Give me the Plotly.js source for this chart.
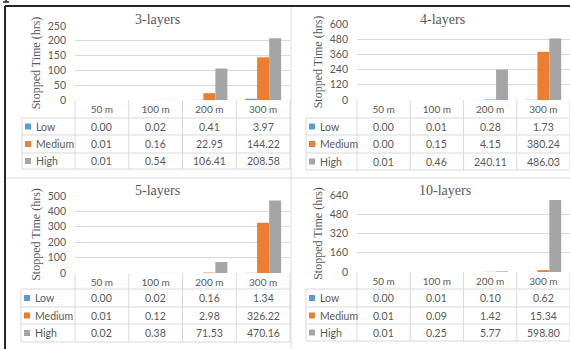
<!DOCTYPE html>
<html>
<head>
<meta charset="utf-8">
<script src="https://cdn.plot.ly/plotly-3.0.1.min.js"></script>
<style>html,body{margin:0;padding:0;background:#fff;}#chart{width:570px;height:349px;}</style>
</head>
<body>
<div id="chart"></div>
<script>
// ---- data ----
const categories = ['50 m', '100 m', '200 m', '300 m'];
const seriesNames = ['Low', 'Medium', 'High'];
const panelTitles = ['3-layers', '4-layers', '5-layers', '10-layers'];

const low3 = [0.00, 0.02, 0.41, 3.97];
const medium3 = [0.01, 0.16, 22.95, 144.22];
const high3 = [0.01, 0.54, 106.41, 208.58];

const low4 = [0.00, 0.01, 0.28, 1.73];
const medium4 = [0.00, 0.15, 4.15, 380.24];
const high4 = [0.01, 0.46, 240.11, 486.03];

const low5 = [0.00, 0.02, 0.16, 1.34];
const medium5 = [0.01, 0.12, 2.98, 326.22];
const high5 = [0.02, 0.38, 71.53, 470.16];

const low10 = [0.00, 0.01, 0.10, 0.62];
const medium10 = [0.01, 0.09, 1.42, 15.34];
const high10 = [0.01, 0.25, 5.77, 598.80];

const yTicks3 = [0, 50, 100, 150, 200, 250];
const yTicks4 = [0, 120, 240, 360, 480, 600];
const yTicks5 = [0, 100, 200, 300, 400, 500];
const yTicks10 = [0, 160, 320, 480, 640];

const yAxisTitle = 'Stopped Time (hrs)';

// ---- styling / layout ----
const W = 570, H = 349;
const colors = ['#5B9BD5', '#ED7D31', '#A5A5A5'];
const lineCol = '#D9D9D9';
const textCol = '#595959';
const sans = 'Lato, "Open Sans", sans-serif';
const serif = '"Liberation Serif", "DejaVu Serif", serif';

const px = v => v / W;
const py = v => 1 - v / H;

const panelData = [
  { series: [low3, medium3, high3], ticks: yTicks3 },
  { series: [low4, medium4, high4], ticks: yTicks4 },
  { series: [low5, medium5, high5], ticks: yTicks5 },
  { series: [low10, medium10, high10], ticks: yTicks10 }
];

// geometry in pixels
const geom = [
  { xl: 75, xr: 290, yt: 26, yb: 100, legL: 22, tX: 157, tY: 19, rows: [100, 118, 135, 153, 169] },
  { xl: 357, xr: 570, yt: 24, yb: 100, legL: 306, tX: 442, tY: 19, rows: [100, 118, 135, 153, 170] },
  { xl: 75, xr: 290, yt: 196, yb: 273, legL: 21, tX: 157, tY: 190, rows: [273, 289, 307, 324, 342] },
  { xl: 357, xr: 570, yt: 195, yb: 272, legL: 306, tX: 445, tY: 190, rows: [272, 289, 307, 324, 341] }
];

const traces = [];
const layout = {
  width: W, height: H,
  margin: { l: 0, r: 0, t: 0, b: 0 },
  paper_bgcolor: '#ffffff',
  plot_bgcolor: 'rgba(0,0,0,0)',
  showlegend: false,
  barmode: 'group',
  bargap: 0.33,
  bargroupgap: 0,
  annotations: [],
  shapes: []
};

panelData.forEach((pd, i) => {
  const g = geom[i];
  const n = i + 1;
  const xa = 'x' + (n === 1 ? '' : n);
  const ya = 'y' + (n === 1 ? '' : n);
  pd.series.forEach((vals, s) => {
    traces.push({
      type: 'bar', x: categories, y: vals, name: seriesNames[s],
      xaxis: xa, yaxis: ya,
      marker: { color: colors[s] },
      hoverinfo: 'skip'
    });
  });
  const ymax = pd.ticks[pd.ticks.length - 1];
  layout['xaxis' + (n === 1 ? '' : n)] = {
    domain: [px(g.xl), px(g.xr)],
    anchor: ya,
    type: 'category',
    range: [-0.5, categories.length - 0.5],
    showgrid: false, zeroline: false, showline: false,
    ticks: '', ticklabelstandoff: 2,
    tickfont: { family: sans, size: 10, color: textCol },
    fixedrange: true
  };
  layout['yaxis' + (n === 1 ? '' : n)] = {
    domain: [py(g.yb), py(g.yt)],
    anchor: xa,
    range: [0, ymax],
    tickvals: pd.ticks,
    showgrid: true, gridcolor: lineCol, gridwidth: 1,
    zeroline: false, showline: false,
    ticks: '', ticklabelstandoff: 8,
    tickfont: { family: sans, size: 10.5, color: textCol },
    title: { text: yAxisTitle, font: { family: serif, size: 12, color: textCol }, standoff: 4 },
    fixedrange: true
  };

  // panel title
  layout.annotations.push({
    xref: 'paper', yref: 'paper', x: px(g.tX), y: py(g.tY),
    text: panelTitles[i], showarrow: false,
    xanchor: 'center', yanchor: 'middle',
    font: { family: serif, size: 14, color: textCol }
  });

  // table grid
  const r = g.rows;
  const colW = (g.xr - g.xl) / categories.length;
  const line = (x0, y0, x1, y1) => layout.shapes.push({
    type: 'line', xref: 'paper', yref: 'paper',
    x0: px(x0), y0: py(y0), x1: px(x1), y1: py(y1),
    line: { color: lineCol, width: 1 }
  });
  for (let k = 1; k < r.length; k++) line(g.legL, r[k], g.xr, r[k]);
  for (let c = 0; c <= categories.length; c++) {
    const x = g.xl + c * colW;
    line(x, r[0], x, r[r.length - 1]);
  }
  line(g.legL, r[1], g.legL, r[r.length - 1]);

  // table rows
  seriesNames.forEach((name, s) => {
    const yc = (r[s + 1] + r[s + 2]) / 2;
    layout.shapes.push({
      type: 'rect', xref: 'paper', yref: 'paper',
      x0: px(g.legL + 3), x1: px(g.legL + 9),
      y0: py(yc + 3), y1: py(yc - 3),
      fillcolor: colors[s], line: { width: 0 }
    });
    layout.annotations.push({
      xref: 'paper', yref: 'paper', x: px(g.legL + 12), y: py(yc),
      text: name, showarrow: false, xanchor: 'left', yanchor: 'middle',
      font: { family: sans, size: 10.5, color: textCol }
    });
    pd.series[s].forEach((v, c) => {
      layout.annotations.push({
        xref: xa, yref: 'paper', x: categories[c], y: py(yc),
        text: v.toFixed(2), showarrow: false, xanchor: 'center', yanchor: 'middle',
        font: { family: sans, size: 10.5, color: textCol }
      });
    });
  });
});

// frame and dividers
layout.shapes.push(
  { type: 'line', xref: 'paper', yref: 'paper', x0: px(5), y0: py(178), x1: 1, y1: py(178), line: { color: lineCol, width: 1 } },
  { type: 'line', xref: 'paper', yref: 'paper', x0: px(291), y0: py(6), x1: px(291), y1: 0, line: { color: lineCol, width: 1 } },
  { type: 'line', xref: 'paper', yref: 'paper', x0: px(5), y0: py(6), x1: 1, y1: py(6), line: { color: '#262626', width: 2 } },
  { type: 'line', xref: 'paper', yref: 'paper', x0: px(5), y0: py(6), x1: px(5), y1: 0, line: { color: '#262626', width: 2 } },
  // foot of a glyph from the text above the figure (cut off in the source)
  { type: 'line', xref: 'paper', yref: 'paper', x0: px(3), y0: py(2), x1: px(9), y1: py(2), line: { color: '#262626', width: 1.5 } },
  { type: 'line', xref: 'paper', yref: 'paper', x0: px(6), y0: 1, x1: px(6), y1: py(2), line: { color: '#262626', width: 1.5 } }
);

Plotly.newPlot('chart', traces, layout, { displayModeBar: false, staticPlot: true });
</script>
</body>
</html>
